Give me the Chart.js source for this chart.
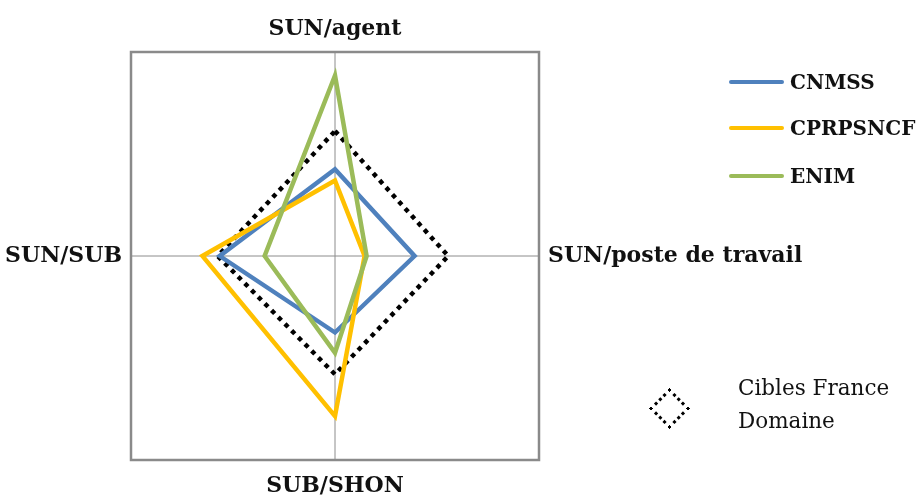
<!DOCTYPE html>
<html>
<head>
<meta charset="utf-8">
<script src="https://cdn.jsdelivr.net/npm/chart.js@4.4.0/dist/chart.umd.min.js"></script>
<style>
  body { margin: 0; background: #fff; }
  #wrap { position: relative; width: 918px; height: 497px; }
  #radar { position: absolute; left: 0; top: 0; }
  .item { position: absolute; display: flex; align-items: center; font: bold 20px "DejaVu Serif", serif; color: #111; }
  .swatch { width: 55px; height: 4px; border-radius: 2px; margin-right: 6px; }
  #target { position: absolute; left: 649px; top: 388px; width: 40px; height: 40px; }
  #target div { position: absolute; left: 6px; top: 6px; width: 23px; height: 23px; border: 3.5px dotted #000; transform: rotate(45deg); }
  #targetText { position: absolute; left: 738px; top: 371px; font: 21.5px "DejaVu Serif", serif; line-height: 33px; color: #111; }
</style>
</head>
<body>
<div id="wrap">
  <canvas id="radar" width="918" height="497"></canvas>
  <div class="item" style="left:729px; top:70px;"><span class="swatch" style="background:#4f81bd"></span>CNMSS</div>
  <div class="item" style="left:729px; top:116px;"><span class="swatch" style="background:#ffc000"></span>CPRPSNCF</div>
  <div class="item" style="left:729px; top:164px;"><span class="swatch" style="background:#9bbb59"></span>ENIM</div>
  <div id="target"><div></div></div>
  <div id="targetText">Cibles France<br>Domaine</div>
</div>
<script>
const axisLabels = ["SUN/agent", "SUN/poste de travail", "SUB/SHON", "SUN/SUB"];
const cnmss = [8.5, 7.8, 7.5, 11.3];
const cprpsncf = [7.4, 2.9, 15.7, 13.0];
const enim = [17.7, 3.1, 9.5, 6.9];
const cibles = [12.25, 11.1, 11.6, 11.5];
const scaleMax = 20;

// gap between the frame and each axis name (top, right, bottom, left)
const labelGaps = [23, 9, 26, 9];

// square frame around the radar + axis names outside it
const frameAndLabels = {
  id: "frameAndLabels",
  beforeDatasetsDraw(chart) {
    const s = chart.scales.r;
    const r = s.drawingArea;
    const ctx = chart.ctx;
    ctx.save();
    ctx.strokeStyle = "#8a8a8a";
    ctx.lineWidth = 2.5;
    ctx.strokeRect(s.xCenter - r, s.yCenter - r, 2 * r, 2 * r);
    ctx.restore();
  },
  afterDraw(chart) {
    const s = chart.scales.r;
    const r = s.drawingArea;
    const ctx = chart.ctx;
    ctx.save();
    ctx.font = "bold 22px 'DejaVu Serif', serif";
    ctx.fillStyle = "#111";
    ctx.textBaseline = "middle";
    axisLabels.forEach((label, i) => {
      const p = s.getPointPosition(i, r + labelGaps[i]);
      ctx.textAlign = p.x < s.xCenter - 1 ? "right" : p.x > s.xCenter + 1 ? "left" : "center";
      ctx.fillText(label, p.x, p.y);
    });
    ctx.restore();
  }
};

const line = (label, data, color, extra = {}) => ({
  label,
  data,
  borderColor: color,
  borderWidth: 4.5,
  pointRadius: 0,
  fill: false,
  tension: 0,
  ...extra
});

new Chart(document.getElementById("radar"), {
  type: "radar",
  data: {
    labels: axisLabels,
    datasets: [
      line("ENIM", enim, "#9bbb59"),
      line("CPRPSNCF", cprpsncf, "#ffc000"),
      line("CNMSS", cnmss, "#4f81bd"),
      line("Cibles France Domaine", cibles, "#000", { borderDash: [4.5, 5] })
    ]
  },
  options: {
    responsive: false,
    animation: false,
    layout: { padding: { top: 52, left: 131, right: 379, bottom: 37 } },
    plugins: { legend: { display: false }, tooltip: { enabled: false } },
    scales: {
      r: {
        min: 0,
        max: scaleMax,
        ticks: { display: false },
        grid: { display: false },
        angleLines: { color: "#8c8c8c", lineWidth: 1 },
        pointLabels: { display: false }
      }
    }
  },
  plugins: [frameAndLabels]
});
</script>
</body>
</html>
